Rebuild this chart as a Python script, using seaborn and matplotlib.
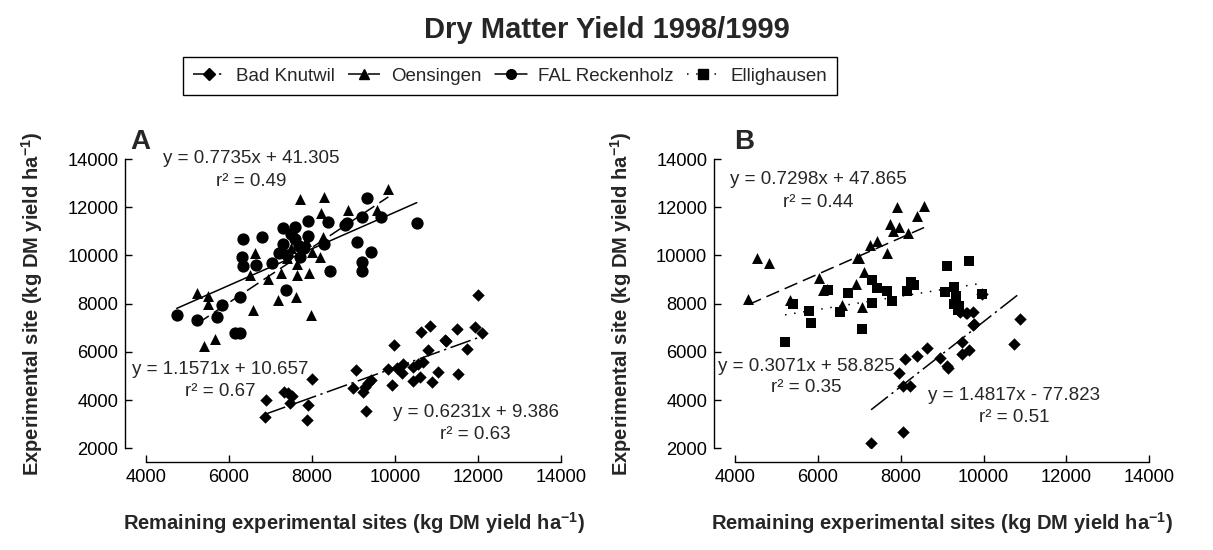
import pandas as pd
import matplotlib.pyplot as plt
from matplotlib.lines import Line2D
import seaborn as sns

# ---- data (kg DM ha-1) ----
sites = ['Bad Knutwil', 'Oensingen', 'FAL Reckenholz', 'Ellighausen']

# panel A
a_fal_x = [4740, 5236, 5719, 5824, 6265, 6145, 6265, 6345, 6803, 6306, 6345, 6651, 7029,
           7374, 7294, 7294, 7213, 7390, 7591, 7911, 7600, 7680, 7800, 8394, 8290, 8434,
           8796, 9078, 9317, 9199, 9415, 9199, 9199, 9664, 10524, 8835, 7911, 7500, 7700]
a_fal_y = [7532, 7325, 7437, 7947, 8291, 6773, 6798, 10673, 10757, 9927, 9565, 9595, 9677,
           8570, 11130, 10479, 10092, 10020, 11170, 11446, 10700, 10400, 10300, 11404, 10479, 9358,
           11266, 10575, 12375, 11587, 10134, 9744, 9371, 11614, 11338, 11338, 10800, 10900, 9950]
a_oen_x = [5236, 5501, 5501, 5398, 5663, 6586, 6506, 6627, 6933, 7188, 7246, 7615, 7632, 7632,
           7936, 7970, 8193, 7711, 8290, 8210, 8861, 9560, 8273, 9840, 7500, 7850, 8000, 7400]
a_oen_y = [8433, 8320, 7988, 6245, 6524, 7739, 9192, 10121, 9014, 8155, 9262, 8266, 9192, 9649,
           9288, 7532, 9927, 12334, 12442, 11778, 11889, 11889, 10757, 12748, 10300, 10600, 10150, 9900]
a_bad_x = [6868, 6892, 7326, 7429, 7511, 7470, 7911, 7871, 7993, 9061, 8997, 9302, 9237, 9278,
           9358, 9415, 9977, 9840, 10041, 10201, 9921, 10162, 10442, 10562, 10683, 10442, 10603,
           10618, 10844, 10803, 11045, 10885, 11206, 12008, 11928, 12090, 11729, 11526, 11487, 11230]
a_bad_y = [3311, 4004, 4349, 4283, 4170, 3867, 3797, 3174, 4863, 5250, 4490, 3562, 4349, 4556,
           4697, 4835, 6287, 5279, 5320, 5498, 4627, 5112, 5386, 5498, 5594, 4806, 4947,
           6839, 7076, 6079, 5180, 4764, 6494, 8362, 7046, 6797, 6108, 5071, 6935, 6465]

# panel B
b_oen_x = [4322, 4524, 4828, 5328, 6036, 6118, 6215, 6577, 6922, 7060, 7115, 6938, 7003, 7260,
           7437, 7664, 7743, 7823, 7968, 8185, 7920, 8388, 8564]
b_oen_y = [8184, 9885, 9677, 8154, 9055, 8569, 8599, 7947, 8819, 7852, 9329, 9885, 9885, 10437,
           10616, 10092, 11309, 11031, 11171, 10947, 12027, 11641, 12055]
b_ell_x = [5208, 5408, 5794, 5828, 6253, 6536, 6736, 7060, 7301, 7301, 7437, 7664, 7784, 8147,
           8243, 8323, 9112, 9658, 9072, 9289, 9337, 9289, 9417, 9393, 9958]
b_ell_y = [6424, 7988, 7711, 7212, 8569, 7670, 8458, 6939, 8016, 8985, 8640, 8541, 8126, 8541,
           8914, 8777, 9566, 9786, 8500, 8706, 8320, 7988, 7905, 7739, 8404]
b_bad_x = [7285, 8050, 7968, 8106, 8050, 8226, 8403, 8645, 8951, 9112, 9152, 9475, 9475, 9658,
           9755, 10738, 10883, 9579, 9755, 9417, 9434, 9610, 9772, 9958]
b_bad_y = [2232, 2689, 5112, 5694, 4585, 4585, 5830, 6150, 5735, 5415, 5320, 6424, 5913, 6080,
           7117, 6329, 7353, 7602, 7669, 7711, 7669, 7628, 7158, 8404]

ticks_x = [4000, 6000, 8000, 10000, 12000, 14000]
ticks_y = [2000, 4000, 6000, 8000, 10000, 12000, 14000]

eq_a = [('y = 0.7735x + 41.305', 'r² = 0.49', 6530, 14006, 13051),
        ('y = 1.1571x + 10.657', 'r² = 0.67', 5790, 5258, 4349),
        ('y = 0.6231x + 9.386', 'r² = 0.63', 11940, 3465, 2552)]
eq_b = [('y = 0.7298x + 47.865', 'r² = 0.44', 6004, 13142, 12180),
        ('y = 0.3071x + 58.825', 'r² = 0.35', 5730, 5382, 4502),
        ('y = 1.4817x - 77.823', 'r² = 0.51', 10745, 4170, 3258)]

def make_df(parts):
    rows = []
    for site, xs, ys in parts:
        rows.append(pd.DataFrame({'x': xs, 'y': ys, 'site': site}))
    return pd.concat(rows, ignore_index=True)

df_a = make_df([('FAL Reckenholz', a_fal_x, a_fal_y),
                ('Oensingen', a_oen_x, a_oen_y),
                ('Bad Knutwil', a_bad_x, a_bad_y)])
df_b = make_df([('Oensingen', b_oen_x, b_oen_y),
                ('Ellighausen', b_ell_x, b_ell_y),
                ('Bad Knutwil', b_bad_x, b_bad_y)])

markers = {'Bad Knutwil': 'D', 'Oensingen': '^', 'FAL Reckenholz': 'o', 'Ellighausen': 's'}
msize = {'Bad Knutwil': 40, 'Oensingen': 62, 'FAL Reckenholz': 78, 'Ellighausen': 55}
lstyle = {'Bad Knutwil': (0, (14, 3, 1.5, 3)), 'Oensingen': (0, (9, 4)),
          'FAL Reckenholz': '-', 'Ellighausen': (0, (1, 5))}

sns.set_style('ticks')
plt.rcParams['font.family'] = ['Liberation Sans', 'DejaVu Sans']
plt.rcParams['mathtext.fontset'] = 'custom'
plt.rcParams['mathtext.rm'] = 'Liberation Sans'
plt.rcParams['mathtext.bf'] = 'Liberation Sans:bold'

fs_text = 13.5

fig = plt.figure(figsize=(12.13, 5.5), dpi=100)
ax_a = fig.add_axes([0.1204, 0.1849, 0.3421, 0.526])
ax_b = fig.add_axes([0.6059, 0.1849, 0.3416, 0.526])

ylab = r'Experimental site (kg DM yield ha$^{\mathbf{-1}}$)'
xlab = r'Remaining experimental sites (kg DM yield ha$^{\mathbf{-1}}$)'

for ax, df, eqs in [(ax_a, df_a, eq_a), (ax_b, df_b, eq_b)]:
    for site in df['site'].unique():
        sub = df[df['site'] == site]
        sns.regplot(data=sub, x='x', y='y', ax=ax, scatter=False, ci=None,
                    line_kws={'color': 'black', 'lw': 1.1, 'linestyle': lstyle[site]})
        sns.scatterplot(data=sub, x='x', y='y', ax=ax, marker=markers[site],
                        s=msize[site], color='black', edgecolor='black', linewidth=0,
                        zorder=3, legend=False)
    ax.set_xlim(4000, 14000)
    ax.set_ylim(2000, 14000)
    ax.set_xticks(ticks_x)
    ax.set_yticks(ticks_y)
    ax.spines['top'].set_visible(False)
    ax.spines['right'].set_visible(False)
    ax.spines['left'].set_position(('outward', 15))
    ax.spines['bottom'].set_position(('outward', 10))
    ax.spines['left'].set_bounds(2000, 14000)
    ax.spines['bottom'].set_bounds(4000, 14000)
    for sp in ['left', 'bottom']:
        ax.spines[sp].set_linewidth(1.0)
        ax.spines[sp].set_color('black')
    ax.tick_params(direction='in', length=5, width=1.0, labelsize=13.2, pad=5, colors='black')
    ax.set_xlabel(xlab, fontsize=14.5, fontweight='bold', labelpad=17)
    ax.set_ylabel(ylab, fontsize=14.5, fontweight='bold', labelpad=16)
    for eq, r2, ex, ey1, ey2 in eqs:
        ax.text(ex, ey1, eq, ha='center', va='center', fontsize=fs_text)
        ax.text(ex, ey2, r2, ha='center', va='center', fontsize=fs_text)

fig.text(140 / 1213, 1 - 142 / 550, 'A', fontsize=20, fontweight='bold', ha='center', va='center')
fig.text(744 / 1213, 1 - 142 / 550, 'B', fontsize=20, fontweight='bold', ha='center', va='center')

fig.suptitle('Dry Matter Yield 1998/1999', fontsize=21, fontweight='bold', y=1 - 30 / 550, va='center')

handles = [Line2D([], [], color='black', marker=markers[s], linestyle=lstyle[s], lw=1.1,
                  markersize=7 if s != 'Bad Knutwil' else 6) for s in sites]
leg = fig.legend(handles, sites, ncol=4, loc='center', bbox_to_anchor=(510 / 1213, 1 - 76 / 550),
                 frameon=True, fancybox=False, edgecolor='black', framealpha=1,
                 fontsize=fs_text, handlelength=1.7, handletextpad=0.6, columnspacing=0.7,
                 borderpad=0.55)
leg.get_frame().set_linewidth(1.0)

fig.savefig('out.png', dpi=100)
